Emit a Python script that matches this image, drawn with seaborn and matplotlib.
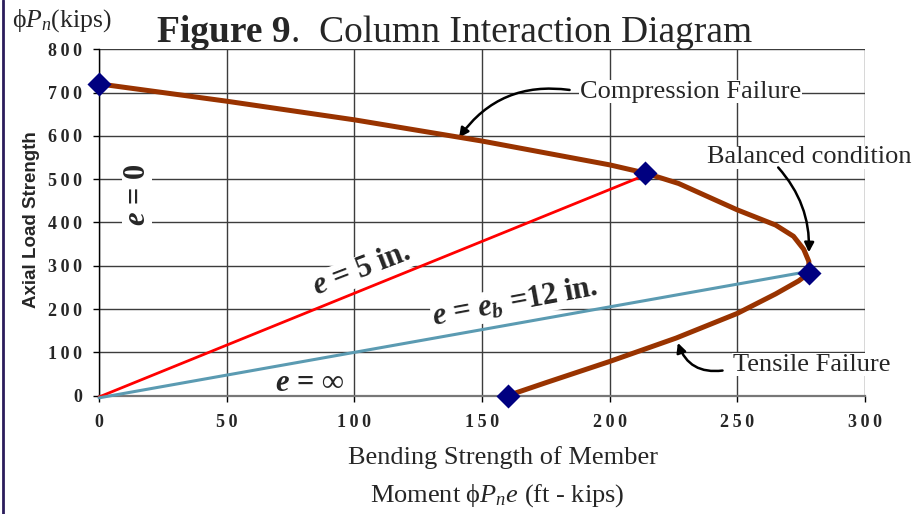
import matplotlib
matplotlib.use('Agg')
import matplotlib.pyplot as plt
from matplotlib.lines import Line2D
from matplotlib.ticker import FuncFormatter
import seaborn as sns

# ---- data ----
moment_curve = [0, 50, 100, 150, 200, 214, 227, 250, 265, 272, 276, 278, 278,
                274, 265, 250, 226, 200, 175, 160]
load_curve = [720, 680, 637, 588, 533, 514, 490, 429, 394, 368, 338, 310, 283,
              265, 235, 190, 133, 79, 30, 0]

moment_pts = [0, 214, 278, 160]
load_pts = [720, 514, 283, 0]

e5_moment = [0, 215]
e5_load = [-3, 512]
eb_moment = [0, 278]
eb_load = [-5, 287]

x_ticks = [0, 50, 100, 150, 200, 250, 300]
y_ticks = [0, 100, 200, 300, 400, 500, 600, 700, 800]

BROWN = '#993300'
NAVY = '#000080'
RED = '#FF0000'
TEAL = '#5B9BB2'
GRID = '#3c3c3c'

sns.set_theme(style='white')
plt.rcParams.update({
    'font.family': ['Liberation Serif', 'DejaVu Serif'],
    'mathtext.fontset': 'custom',
    'mathtext.rm': 'Liberation Serif',
    'mathtext.it': 'Liberation Serif:italic',
    'mathtext.bf': 'Liberation Serif:bold',
    'mathtext.bfit': 'Liberation Serif:italic:bold',
})

fig = plt.figure(figsize=(9.17, 5.14), dpi=100)
ax = fig.add_axes([0.108, 0.2302, 0.8353, 0.674])

# grid + axes
ax.set_xlim(0, 300)
ax.set_ylim(0, 800)
ax.set_xticks(x_ticks)
ax.set_yticks(y_ticks)
ax.set_axisbelow(True)
ax.grid(True, color=GRID, lw=1.0)
for s in ['top', 'right']:
    ax.spines[s].set_visible(False)
ax.spines['left'].set_color('black')
ax.spines['left'].set_linewidth(1.0)
ax.spines['bottom'].set_color('#777777')
ax.spines['bottom'].set_linewidth(1.6)
ax.tick_params(direction='out', length=4, width=1, color='black',
               left=True, bottom=True, labelsize=13)
ax.tick_params(axis='y', pad=8)
ax.tick_params(axis='x', pad=9)
spaced = FuncFormatter(lambda v, p: '\u2009'.join(f'{int(v)}'))
ax.xaxis.set_major_formatter(spaced)
ax.yaxis.set_major_formatter(spaced)
for lab in ax.get_xticklabels() + ax.get_yticklabels():
    lab.set_fontweight('bold')

# eccentricity lines
sns.lineplot(x=e5_moment, y=e5_load, color=RED, lw=2.0, ax=ax, clip_on=False, zorder=3)
sns.lineplot(x=eb_moment, y=eb_load, color=TEAL, lw=2.2, ax=ax, clip_on=False, zorder=3)

# interaction curve
sns.lineplot(x=moment_curve, y=load_curve, sort=False, estimator=None,
             color=BROWN, lw=3.6, ax=ax, zorder=4, clip_on=False)
sns.scatterplot(x=moment_pts, y=load_pts, marker='D', s=150, color=NAVY,
                edgecolor=NAVY, linewidth=0, ax=ax, zorder=5, clip_on=False)

box = dict(fc='white', ec='none', pad=0.3)
big = dict(fontsize=22, fontweight='bold', zorder=1.5, ha='center', va='center')

ax.text(14.9, 463, r'$\mathbfit{e}$ = 0', rotation=90, bbox=dict(fc='white', ec='none', pad=0.5), **big)
ax.text(103, 290, r'$\mathbfit{e}$ = 5 in.', rotation=21, rotation_mode='anchor', bbox=box, **big)
ax.text(162.8, 216, r'$\mathbfit{e}$ = $\mathbfit{e}_{\mathbfit{b}}$ =12 in.', rotation=10.5,
        rotation_mode='anchor', bbox=box, **big)
ax.text(82.6, 29, r'$\mathbfit{e}$ = ∞', bbox=dict(fc='white', ec='none', pad=0.1), **big)

lbl = dict(fontsize=19, zorder=1.5, ha='center', va='center', bbox=dict(fc='white', ec='none', pad=0.35))
ax.text(231.7, 702, 'Compression Failure', **lbl)
ax.text(278.3, 551, 'Balanced condition', **lbl)
ax.text(279, 71, 'Tensile Failure', **lbl)

arrow = dict(arrowstyle='-|>', color='black', lw=1.8, mutation_scale=14, shrinkA=0, shrinkB=0)
ax.annotate('', xy=(141, 596), xytext=(184.3, 706),
            arrowprops=dict(connectionstyle='arc3,rad=0.3', **arrow), annotation_clip=False)
ax.annotate('', xy=(278, 331), xytext=(266, 527),
            arrowprops=dict(connectionstyle='arc3,rad=-0.2', **arrow), annotation_clip=False)
ax.annotate('', xy=(226.7, 122), xytext=(244.2, 58),
            arrowprops=dict(connectionstyle='arc3,rad=-0.4', **arrow), annotation_clip=False)

# titles and axis labels
t1 = fig.text(157 / 917, 1 - 42 / 514, 'Figure 9', fontsize=27, fontweight='bold', va='baseline')
ax.annotate('.  Column Interaction Diagram', xy=(1, 0), xycoords=t1, fontsize=27,
            ha='left', va='bottom', annotation_clip=False)
fig.text(12 / 917, 1 - 27 / 514, 'ϕ' + r'$\mathit{P}_n$(kips)', fontsize=18.5, va='baseline')
fig.text(32 / 917, 1 - 220 / 514, 'Axial Load Strength', rotation=90, fontsize=13.5,
         fontweight='bold', family='Liberation Sans', ha='center', va='center')
fig.text(503 / 917, 1 - 458 / 514, 'Bending Strength of Member', fontsize=19, ha='center', va='center')
fig.text(497 / 917, 1 - 496 / 514, 'Moment ϕ' + r'$\mathit{P}_n\mathit{e}$ (ft - kips)', fontsize=19,
         ha='center', va='center')

fig.add_artist(Line2D([3 / 917, 3 / 917], [0, 1], transform=fig.transFigure, color='#2b1d5c', lw=2))

fig.savefig('out.png', dpi=100)
